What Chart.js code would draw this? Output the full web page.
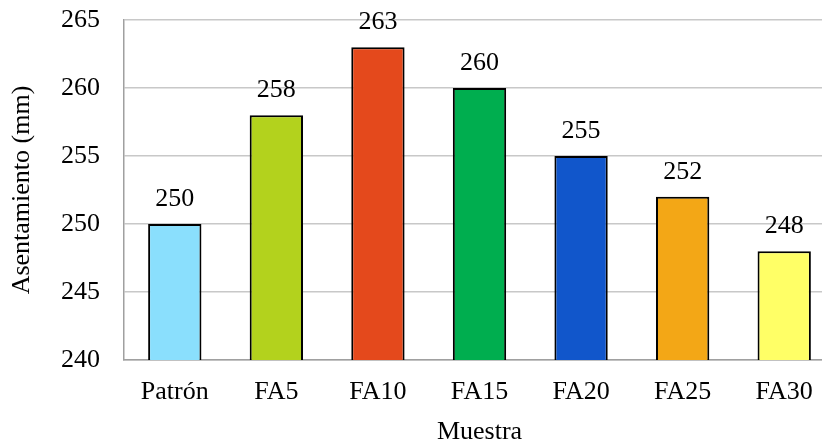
<!DOCTYPE html>
<html>
<head>
<meta charset="utf-8">
<script src="https://cdn.jsdelivr.net/npm/chart.js@4"></script>
<style>
html,body{margin:0;padding:0;overflow:hidden;background:#fff;}
#wrap{width:840px;height:448px;}
</style>
</head>
<body>
<div id="wrap"><canvas id="c" width="840" height="448"></canvas></div>
<script>
const categories = ["Patrón","FA5","FA10","FA15","FA20","FA25","FA30"];
const values = [250,258,263,260,255,252,248];
const barColors = ["#8ADFFD","#B3D21D","#E4491C","#00AE4F","#1156CB","#F3A716","#FFFF66"];
const yTitle = "Asentamiento (mm)";
const xTitle = "Muestra";

const FONT = "'Liberation Serif','Times New Roman',serif";
const FS = 26;

const labelPlugin = {
  id:'valLabels',
  afterDatasetsDraw(chart){
    const ctx = chart.ctx;
    const meta = chart.getDatasetMeta(0);
    ctx.save();
    ctx.font = FS + "px " + FONT;
    ctx.fillStyle = "#000";
    ctx.textAlign = "center";
    ctx.textBaseline = "alphabetic";
    meta.data.forEach((bar,i)=>{
      ctx.fillText(String(values[i]), bar.x, bar.y - 18);
    });
    ctx.restore();
  }
};

new Chart(document.getElementById('c'), {
  type:'bar',
  data:{
    labels:categories,
    datasets:[{
      data:values,
      backgroundColor:barColors,
      borderColor:"#000",
      borderWidth:2,
      borderSkipped:'bottom',
      barPercentage:0.525,
      categoryPercentage:1
    }]
  },
  options:{
    responsive:false,
    animation:false,
    layout:{padding:{left:0,right:5,top:20,bottom:0}},
    plugins:{legend:{display:false},tooltip:{enabled:false}},
    scales:{
      y:{
        min:240,max:265,
        ticks:{stepSize:5,color:"#000",font:{family:FONT,size:FS},padding:24},
        grid:{color:"#c8c8c8",drawTicks:false,lineWidth:1.5},
        border:{color:"#a0a0a0",width:1.5},
        title:{display:true,text:yTitle,color:"#000",font:{family:FONT,size:FS},padding:{top:7,bottom:0}},
        afterFit(s){ s.width = 124; s.paddingTop = 0; s.paddingBottom = 0; }
      },
      x:{
        ticks:{color:"#000",font:{family:FONT,size:FS},padding:17},
        grid:{display:false,drawTicks:false},
        border:{color:"#a0a0a0",width:1.5},
        title:{display:true,text:xTitle,color:"#000",font:{family:FONT,size:FS},padding:{top:0,bottom:0}},
        afterFit(s){ s.height = 88; s.paddingLeft = 0; s.paddingRight = 0; }
      }
    }
  },
  plugins:[labelPlugin]
});
</script>
</body>
</html>
